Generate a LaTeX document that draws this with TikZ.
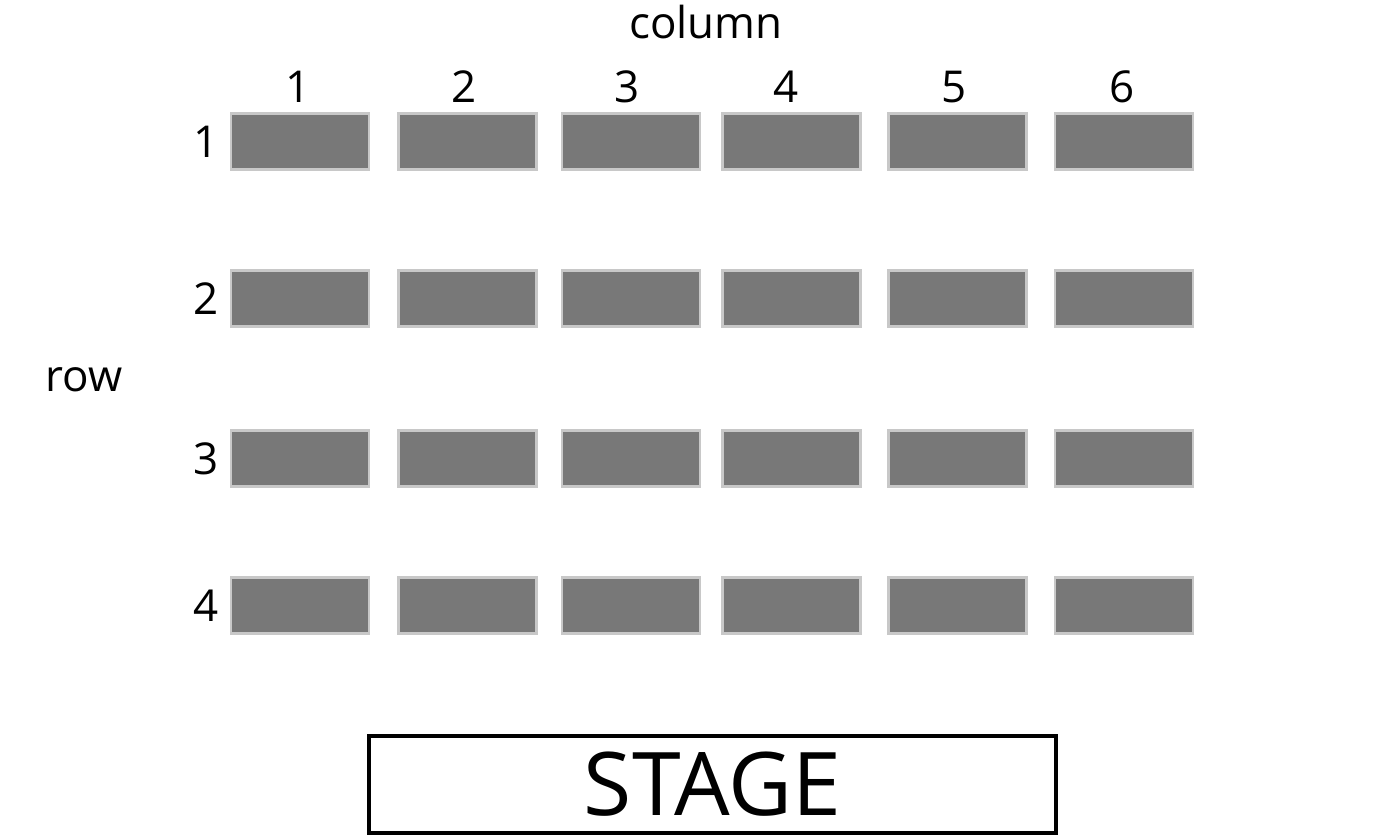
\documentclass[tikz,border=0pt]{standalone}
\usepackage{fontspec}
\setmainfont{Open Sans}
\usetikzlibrary{positioning}
\definecolor{seatgray}{HTML}{787878}
\definecolor{seatedge}{HTML}{C8C8C8}

\begin{document}
\begin{tikzpicture}[x=0.02cm,y=-0.02cm,
  seat/.style={fill=seatgray,draw=seatedge,line width=1.2pt,minimum width=2.76cm,minimum height=1.12cm,inner sep=0pt},
  lbl/.style={font=\fontsize{25}{30}\selectfont,inner sep=0pt},
  stagebox/.style={draw=black,line width=2.6pt,minimum width=13.74cm,minimum height=1.94cm,inner sep=0pt,font=\fontsize{50}{56}\selectfont}]
\useasboundingbox (0,0) rectangle (1388,838);
% seats
\foreach \r/\y in {1/141.5,2/298.5,3/458.5,4/605.5}{
  \foreach \c/\x in {1/300,2/467.5,3/631,4/791.5,5/957.5,6/1124}{
    \node[seat] (s\r\c) at (\x,\y) {};
  }
  \node[lbl] (r\r) at (206,\y) {\r};
}
\foreach \c/\x in {1/298,2/464,3/627,4/786,5/954,6/1122}
  \node[lbl] (c\c) at (\x,87) {\c};
\node[lbl] (collbl) at (706,22) {column};
\node[lbl] (rowlbl) at (84,380) {row};
% stage
\node[stagebox] (stage) at (712.5,784.5) {STAGE};
\end{tikzpicture}
\end{document}
